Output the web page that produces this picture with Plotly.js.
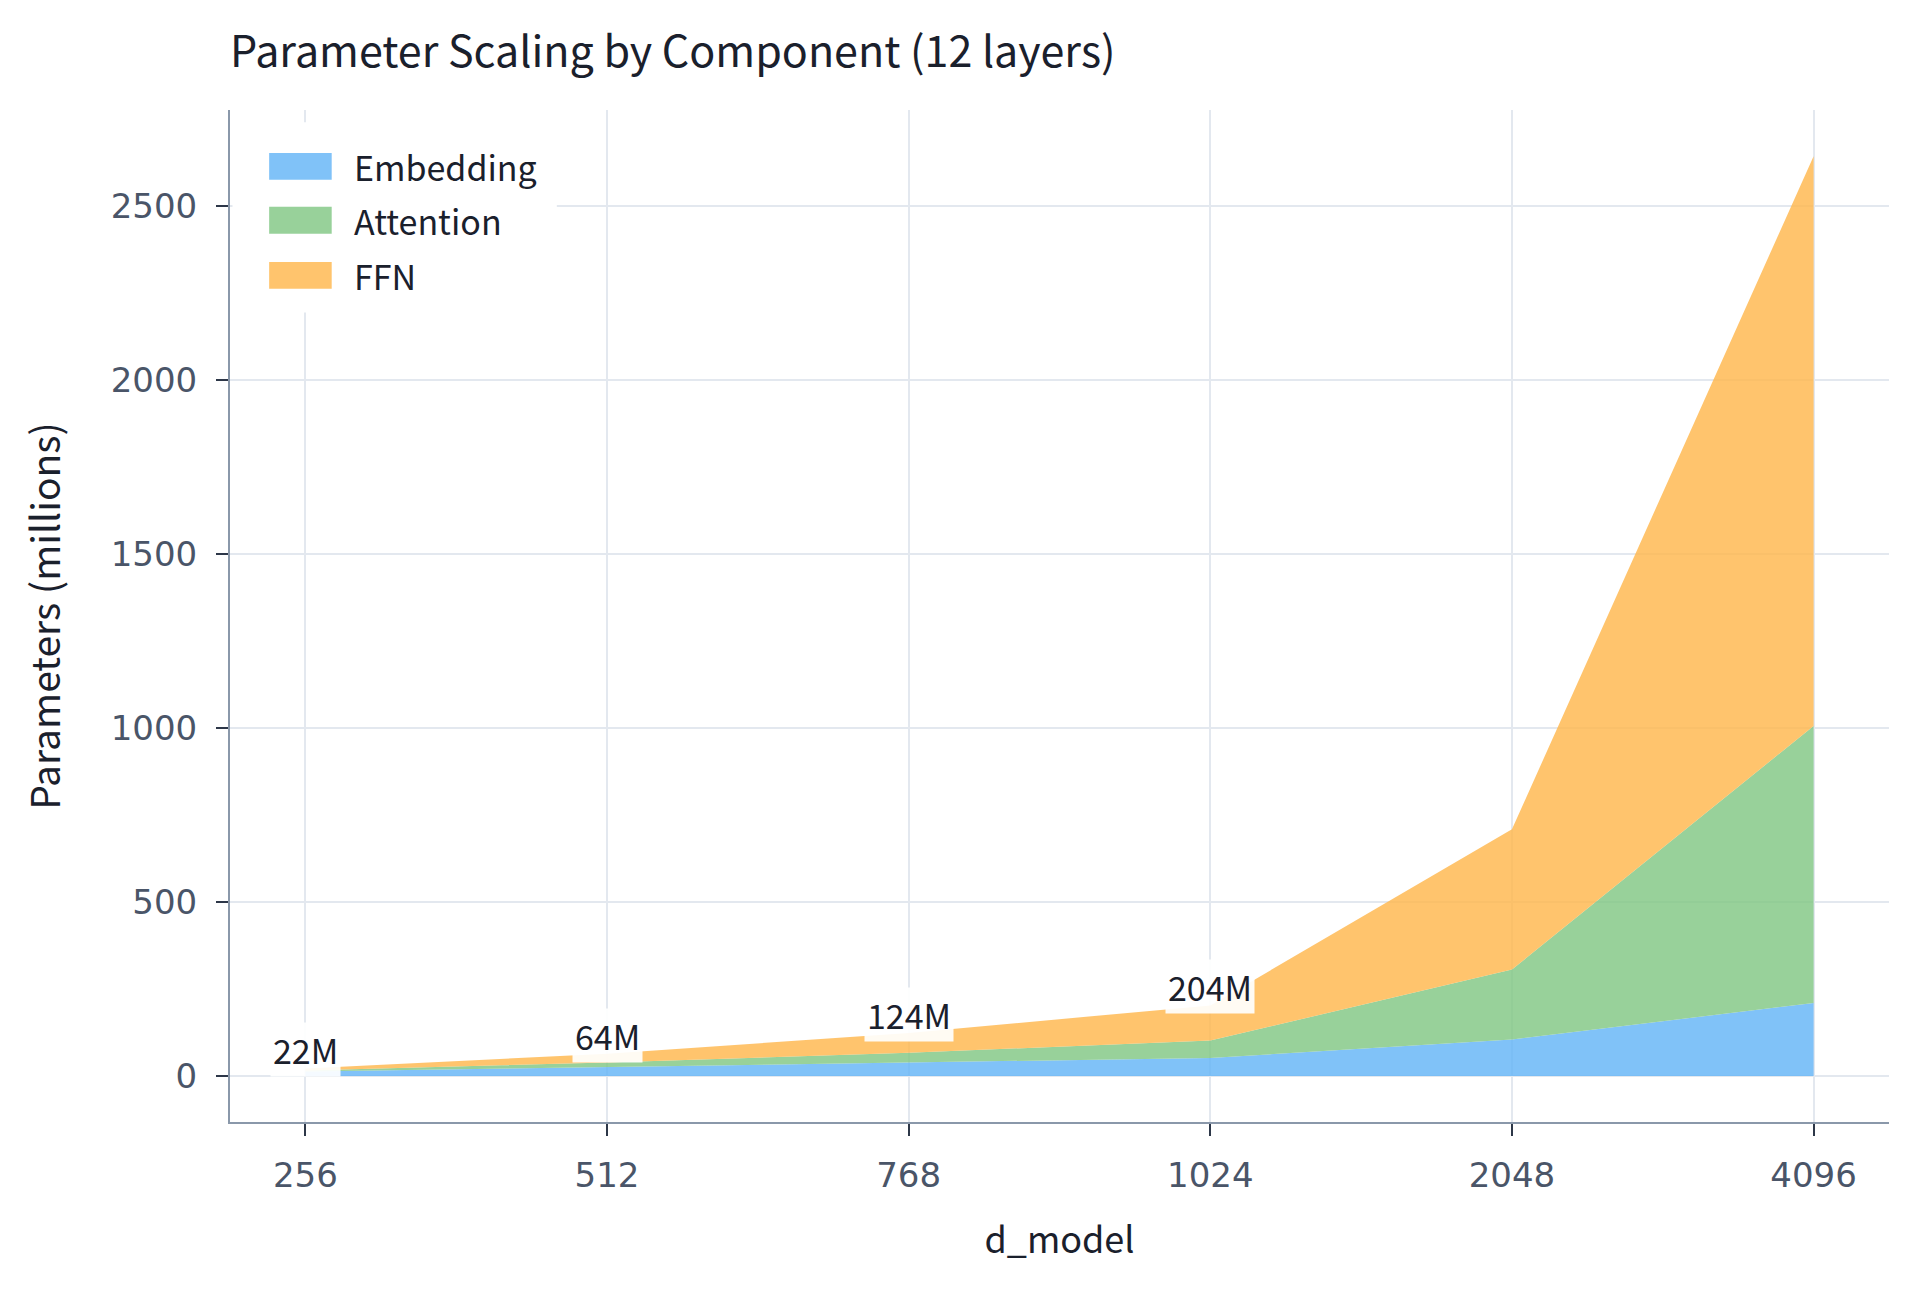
<!DOCTYPE html>
<html>
<head>
<meta charset="utf-8">
<script src="https://cdn.plot.ly/plotly-3.0.1.min.js"></script>
<style>html,body{margin:0;padding:0;background:#fff;}#chart{width:1920px;height:1292px;}</style>
</head>
<body>
<div id="chart"></div>
<script>
const dModel = ["256", "512", "768", "1024", "2048", "4096"];
const embedding = [13, 26, 39, 52, 105, 210];
const attention = [3, 13, 28, 50, 201, 796];
const ffn = [6, 25, 57, 101, 403, 1637];
const totalLabels = ["22M", "64M", "124M", "204M"];
const seriesNames = ["Embedding", "Attention", "FFN"];
const seriesColors = ["rgba(100,181,246,0.82)", "rgba(129,199,132,0.82)", "rgba(255,183,77,0.82)"];

const FONT = '"Noto Sans CJK KR", "Noto Sans", sans-serif';
const TICKFONT = '"DejaVu Sans", Verdana, sans-serif';

const seriesValues = [embedding, attention, ffn];
const traces = seriesNames.map((name, k) => ({
  type: 'scatter', mode: 'lines', name: name, x: dModel, y: seriesValues[k],
  stackgroup: 'one', line: {width: 0, color: seriesColors[k]}, fillcolor: seriesColors[k],
  hoverinfo: 'skip', showlegend: false
}));

const annotations = totalLabels.map((t, i) => ({
  x: i, y: embedding[i] + attention[i] + ffn[i],
  xref: 'x', yref: 'y', text: t, showarrow: false,
  yanchor: 'bottom', yshift: -9,
  bgcolor: 'rgba(255,255,255,0.92)', borderpad: 2,
  font: {family: FONT, size: 34, color: '#1a202c'}
}));

// legend drawn as paper-positioned swatches + labels
const shapes = [{
  type: 'rect', xref: 'paper', yref: 'paper', x0: 0.0015, x1: 0.197, y0: 0.800, y1: 0.988,
  fillcolor: '#ffffff', line: {width: 0}, layer: 'above'
}];
const legendY = [0.9443, 0.891, 0.8366];
seriesNames.forEach((name, k) => {
  shapes.push({
    type: 'rect', xref: 'paper', yref: 'paper', x0: 0.0236, x1: 0.0613,
    y0: legendY[k] - 0.0133, y1: legendY[k] + 0.0133,
    fillcolor: seriesColors[k], line: {width: 0}, layer: 'above'
  });
  annotations.push({
    xref: 'paper', yref: 'paper', x: 0.0738, y: legendY[k], xanchor: 'left', yanchor: 'middle',
    text: name, showarrow: false, font: {family: FONT, size: 34, color: '#1a202c'}
  });
});

const layout = {
  width: 1920, height: 1292,
  paper_bgcolor: '#fff', plot_bgcolor: '#fff',
  margin: {l: 230, r: 31, t: 110, b: 170},
  font: {family: FONT, color: '#4a5568'},
  title: {text: 'Parameter Scaling by Component (12 layers)', x: 0, xref: 'paper', xanchor: 'left',
          y: 0.96, yref: 'container', yanchor: 'middle',
          font: {family: FONT, size: 43, color: '#1a202c'}},
  xaxis: {
    type: 'category', range: [-0.25, 5.25],
    title: {text: 'd_model', font: {family: FONT, size: 36, color: '#1a202c'}, standoff: 34},
    showgrid: true, gridcolor: '#e3e8ef', gridwidth: 2,
    showline: true, linecolor: '#8a98aa', linewidth: 2,
    ticks: 'outside', ticklen: 12, tickwidth: 2, tickcolor: '#2d3748', ticklabelstandoff: 10,
    tickfont: {family: TICKFONT, size: 34, color: '#4a5568'}, zeroline: false
  },
  yaxis: {
    range: [-132, 2776], dtick: 500, tick0: 0,
    title: {text: 'Parameters (millions)', font: {family: FONT, size: 39, color: '#1a202c'}, standoff: 38},
    showgrid: true, gridcolor: '#e3e8ef', gridwidth: 2,
    showline: true, linecolor: '#8a98aa', linewidth: 2,
    ticks: 'outside', ticklen: 12, tickwidth: 2, tickcolor: '#2d3748', ticklabelstandoff: 12,
    tickfont: {family: TICKFONT, size: 34, color: '#4a5568'}, zeroline: false
  },
  showlegend: false,
  shapes: shapes,
  annotations: annotations
};

Plotly.newPlot('chart', traces, layout, {displayModeBar: false, staticPlot: true});
</script>
</body>
</html>
